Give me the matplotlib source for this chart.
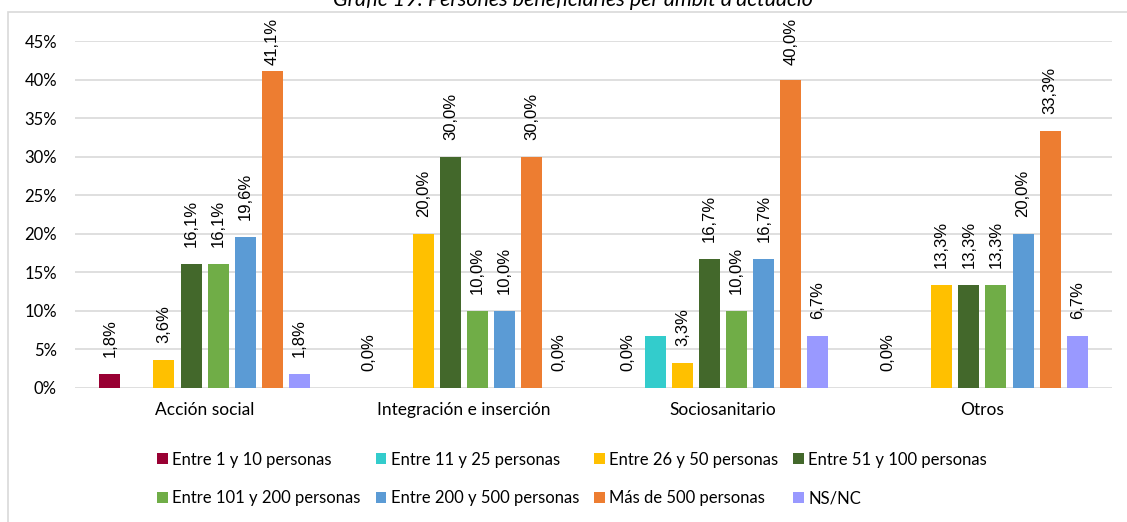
import numpy as np
import matplotlib
matplotlib.use('Agg')
import matplotlib.pyplot as plt
from matplotlib.patches import Rectangle

# Data (percent)
ambits = ['Acción social', 'Integración e inserción', 'Sociosanitario', 'Otros']
series = ['Entre 1 y 10 personas', 'Entre 11 y 25 personas', 'Entre 26 y 50 personas',
          'Entre 51 y 100 personas', 'Entre 101 y 200 personas', 'Entre 200 y 500 personas',
          'Más de 500 personas', 'NS/NC']
entre_1_10 = [1.8, 0.0, 0.0, 0.0]
entre_11_25 = [0.0, 0.0, 6.7, 0.0]
entre_26_50 = [3.6, 20.0, 3.3, 13.3]
entre_51_100 = [16.1, 30.0, 16.7, 13.3]
entre_101_200 = [16.1, 10.0, 10.0, 13.3]
entre_200_500 = [19.6, 10.0, 16.7, 20.0]
mas_500 = [41.1, 30.0, 40.0, 33.3]
ns_nc = [1.8, 0.0, 6.7, 6.7]
values = [entre_1_10, entre_11_25, entre_26_50, entre_51_100,
          entre_101_200, entre_200_500, mas_500, ns_nc]
show_labels = [True, False, True, True, True, True, True, True]
yticks = [0, 5, 10, 15, 20, 25, 30, 35, 40, 45]

colors = ['#990033', '#33CCCC', '#FFC000', '#43682B',
          '#70AD47', '#5B9BD5', '#ED7D31', '#9999FF']

W, H = 1127, 522
fig = plt.figure(figsize=(W / 100, H / 100), dpi=100)
ax = fig.add_axes([75 / W, 1 - 388 / H, (1112 - 75) / W, (388 - 41) / H])

# chart border (partly outside the image)
fig.patches.append(Rectangle((8 / W, -0.1), 1.2, 1 - 12 / H + 0.1, transform=fig.transFigure,
                             fill=False, edgecolor='#D9D9D9', linewidth=1.2))

fig.text(573 / W, 1 - 6 / H, "Gràfic 19: Persones beneficiàries per àmbit d'actuació",
         ha='center', va='baseline', fontsize=15.5, style='italic', family='Lato')

x = np.arange(len(ambits))
pitch = 0.1045
width = 0.081
label_gap = 2.2    # in data units, above bar top
label_max = 41.9   # labels kept inside the chart area, like Excel does
handles = []
for i, (name, vals) in enumerate(zip(series, values)):
    pos = x + (i - 3.5) * pitch
    bars = ax.bar(pos, vals, width, color=colors[i], label=name, zorder=3)
    handles.append(bars)
    if show_labels[i]:
        for b, v in zip(bars, vals):
            ax.text(b.get_x() + b.get_width() / 2, min(v + label_gap, label_max),
                    f'{v:.1f}%'.replace('.', ','), rotation=90, ha='center', va='bottom',
                    fontsize=12, family='Liberation Sans', clip_on=False)

ax.set_xlim(-0.5, len(ambits) - 0.5)
ax.set_ylim(0, 45)
ax.set_yticks(yticks)
ax.set_yticklabels([f'{t}%' for t in yticks], family='Lato', fontsize=12)
ax.set_xticks(x)
ax.set_xticklabels(ambits, family='Lato', fontsize=12.5)
ax.tick_params(axis='y', length=0, pad=13)
ax.tick_params(axis='x', length=0, pad=10)
ax.grid(axis='y', color='#D9D9D9', linewidth=1.2, zorder=0)
for s in ax.spines.values():
    s.set_visible(False)

# legend filled row by row
order = [0, 4, 1, 5, 2, 6, 3, 7]
fig.legend([handles[k] for k in order], [series[k] for k in order],
           loc='center', bbox_to_anchor=(572 / W, 1 - 479 / H), ncol=4, frameon=False,
           prop={'family': 'Lato', 'size': 12}, handlelength=0.65, handleheight=0.65,
           handletextpad=0.25, columnspacing=0.9, labelspacing=1.35)

fig.savefig('out.png', dpi=100)
